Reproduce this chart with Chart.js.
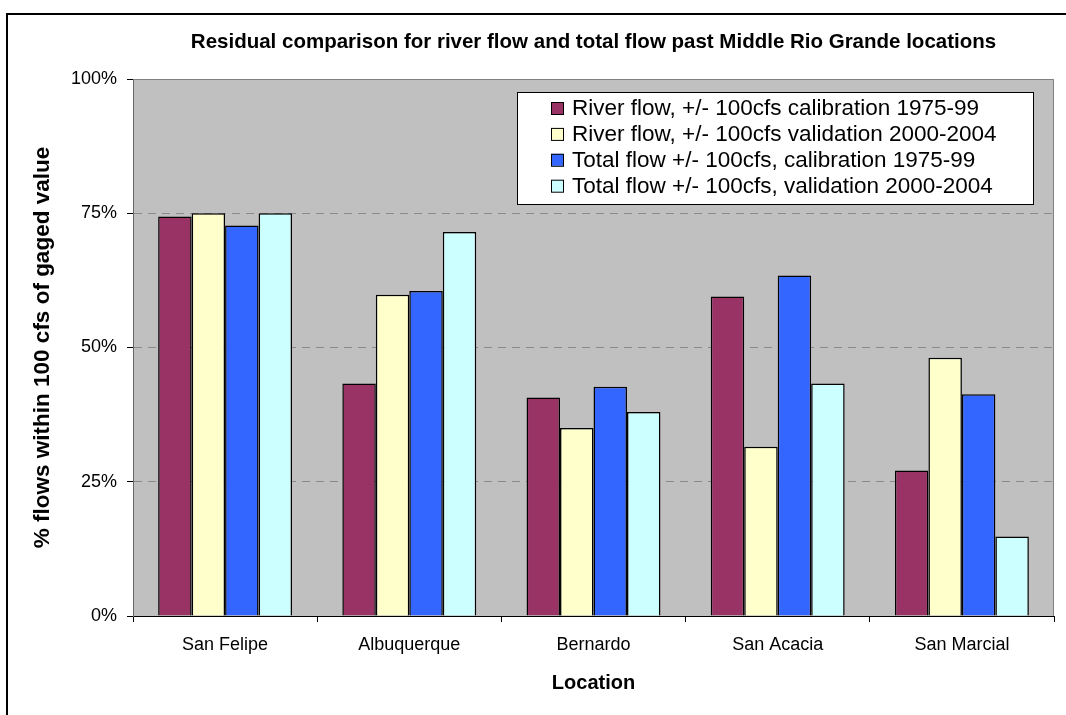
<!DOCTYPE html>
<html>
<head>
<meta charset="utf-8">
<script src="https://cdn.jsdelivr.net/npm/chart.js@4.4.0/dist/chart.umd.min.js"></script>
<style>
  html, body { margin: 0; padding: 0; background: #fff; }
  #wrap { width: 1066px; height: 715px; }
</style>
</head>
<body>
<div id="wrap"><canvas id="flowChart" width="1066" height="715"></canvas></div>
<script>
// ---- Data ----
const locations = ['San Felipe', 'Albuquerque', 'Bernardo', 'San Acacia', 'San Marcial'];
const riverCal = [74.4, 43.3, 40.7, 59.5, 27.1];
const riverVal = [75.0, 59.8, 35.0, 31.5, 48.1];
const totalCal = [72.7, 60.5, 42.7, 63.4, 41.3];
const totalVal = [75.0, 71.5, 38.0, 43.3, 14.8];
const yTicks = [0, 25, 50, 75, 100];

const chartTitle = 'Residual comparison for river flow and total flow past Middle Rio Grande locations';
const FONT = 'Arial, "Liberation Sans", sans-serif';

// ---- Plugins de dibujo ----
const plotBackground = {
  id: 'plotBackground',
  beforeDraw(chart) {
    const { ctx, chartArea: a } = chart;
    ctx.save();
    ctx.fillStyle = '#c0c0c0';
    ctx.fillRect(a.left, a.top, a.right - a.left, a.bottom - a.top);
    ctx.restore();
  },
  beforeDatasetsDraw(chart) {
    const { ctx, chartArea: a } = chart;
    ctx.save();
    ctx.strokeStyle = '#808080';
    ctx.lineWidth = 1;
    ctx.beginPath();
    ctx.moveTo(a.left, a.top + 0.5);
    ctx.lineTo(a.right - 0.5, a.top + 0.5);
    ctx.lineTo(a.right - 0.5, a.bottom);
    ctx.stroke();
    ctx.restore();
  }
};

const titleAndFrame = {
  id: 'titleAndFrame',
  afterDraw(chart) {
    const { ctx, chartArea: a } = chart;
    ctx.save();
    ctx.font = 'bold 20.5px ' + FONT;
    ctx.fillStyle = '#000';
    ctx.textAlign = 'center';
    ctx.textBaseline = 'middle';
    ctx.fillText(chartTitle, (a.left + a.right) / 2, 42);

    ctx.strokeStyle = '#000';
    ctx.lineWidth = 2;
    ctx.strokeRect(7, 14, 1200, 900);
    ctx.restore();
  }
};

const boxLegend = {
  id: 'boxLegend',
  afterDraw(chart) {
    const { ctx, chartArea: a } = chart;
    const left = a.right - 537;
    const top = a.top + 13;
    const rowH = 25.9;
    ctx.save();
    ctx.fillStyle = '#fff';
    ctx.fillRect(left, top, 516, 112);
    ctx.strokeStyle = '#000';
    ctx.lineWidth = 1;
    ctx.strokeRect(left + 0.5, top + 0.5, 516, 112);

    ctx.font = '22.5px ' + FONT;
    ctx.textBaseline = 'middle';
    chart.data.datasets.forEach((ds, i) => {
      const cy = top + 16 + i * rowH;
      ctx.fillStyle = ds.backgroundColor;
      ctx.fillRect(left + 34, cy - 6, 12, 12);
      ctx.strokeStyle = '#000';
      ctx.strokeRect(left + 34.5, cy - 5.5, 12, 12);
      ctx.fillStyle = '#000';
      ctx.fillText(ds.label, left + 55, cy + 1);
    });
    ctx.restore();
  }
};

// ---- Gráfico ----
const flowCtx = document.getElementById('flowChart');

new Chart(flowCtx, {
  type: 'bar',
  data: {
    labels: locations,
    datasets: [
      { label: 'River flow, +/- 100cfs calibration 1975-99', data: riverCal, backgroundColor: '#993366' },
      { label: 'River flow, +/- 100cfs validation 2000-2004', data: riverVal, backgroundColor: '#ffffcc' },
      { label: 'Total flow +/- 100cfs, calibration 1975-99', data: totalCal, backgroundColor: '#3366ff' },
      { label: 'Total flow +/- 100cfs, validation 2000-2004', data: totalVal, backgroundColor: '#ccffff' }
    ].map(ds => ({ ...ds, borderColor: '#000', borderWidth: 1.5, categoryPercentage: 0.727, barPercentage: 1 }))
  },
  options: {
    responsive: false,
    animation: false,
    devicePixelRatio: 1,
    layout: { padding: { top: 79, right: 12, bottom: 0, left: 0 } },
    plugins: {
      legend: { display: false },
      title: { display: false },
      tooltip: { enabled: false }
    },
    scales: {
      x: {
        afterFit: s => { s.height = 99; },
        grid: { offset: true, drawOnChartArea: false, tickLength: 6, tickColor: '#000' },
        border: { color: '#000', width: 1 },
        ticks: { color: '#000', padding: 12, font: { family: FONT, size: 18 } },
        title: {
          display: true,
          text: 'Location',
          color: '#000',
          padding: { top: 0, bottom: 20 },
          font: { family: FONT, size: 20, weight: 'bold' }
        }
      },
      y: {
        min: 0,
        max: 100,
        afterFit: s => { s.width = 133; },
        afterBuildTicks: s => { s.ticks = yTicks.map(v => ({ value: v })); },
        grid: {
          color: c => (c.tick && c.tick.value > 0 && c.tick.value < 100) ? '#8a8a8a' : 'rgba(0,0,0,0)',
          tickColor: '#000',
          tickLength: 6,
          tickBorderDash: []
        },
        border: { color: '#666', width: 1, dash: [8, 6] },
        ticks: {
          color: '#000',
          padding: 10,
          font: { family: FONT, size: 18 },
          callback: v => v + '%'
        },
        title: {
          display: true,
          text: '% flows within 100 cfs of gaged value',
          color: '#000',
          padding: { top: 29, bottom: 0 },
          font: { family: FONT, size: 22.5, weight: 'bold' }
        }
      }
    }
  },
  plugins: [plotBackground, titleAndFrame, boxLegend]
});
</script>
</body>
</html>
